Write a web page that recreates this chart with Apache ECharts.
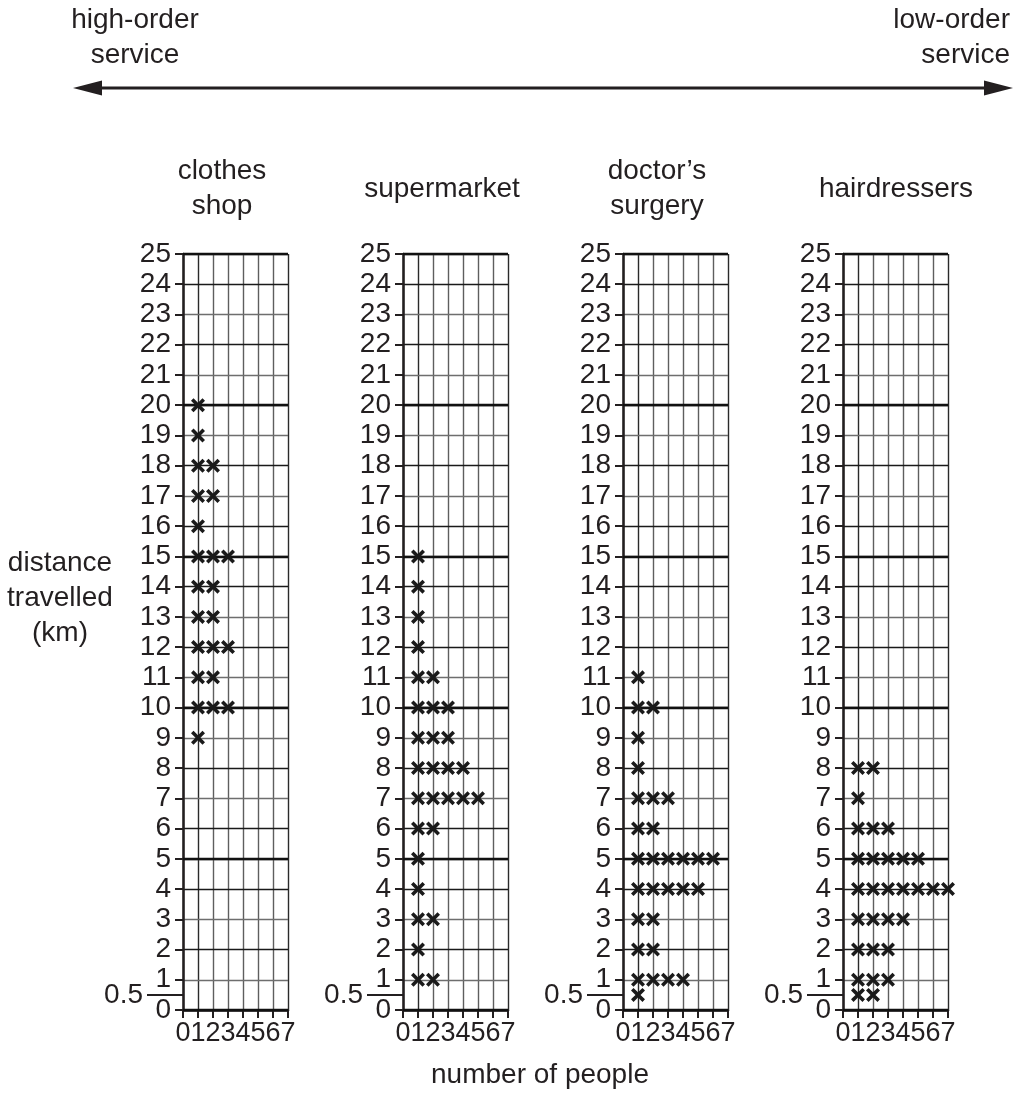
<!DOCTYPE html>
<html>
<head>
<meta charset="utf-8">
<script src="https://cdn.jsdelivr.net/npm/echarts@6/dist/echarts.min.js"></script>
<style>
html,body{margin:0;padding:0;background:#fff;}
#chart{width:1028px;height:1104px;}
</style>
</head>
<body>
<div id="chart"></div>
<script>
// ---- data ----
const categories = ['clothes\nshop', 'supermarket', 'doctor\u2019s\nsurgery', 'hairdressers'];
const clothesDistance = [20, 19, 18, 17, 16, 15, 14, 13, 12, 11, 10, 9];
const clothesPeople   = [1, 1, 2, 2, 1, 3, 2, 2, 3, 2, 3, 1];
const supermarketDistance = [15, 14, 13, 12, 11, 10, 9, 8, 7, 6, 5, 4, 3, 2, 1];
const supermarketPeople   = [1, 1, 1, 1, 2, 3, 3, 4, 5, 2, 1, 1, 2, 1, 2];
const doctorDistance = [11, 10, 9, 8, 7, 6, 5, 4, 3, 2, 1, 0.5];
const doctorPeople   = [1, 2, 1, 1, 3, 2, 6, 5, 2, 2, 4, 1];
const hairDistance = [8, 7, 6, 5, 4, 3, 2, 1, 0.5];
const hairPeople   = [2, 1, 3, 5, 7, 4, 3, 3, 2];
const yTicks = [0,1,2,3,4,5,6,7,8,9,10,11,12,13,14,15,16,17,18,19,20,21,22,23,24,25];
const xTicks = [0,1,2,3,4,5,6,7];
const extraTick = [0.5];
const yMax = 25;
const xMax = 7;
const arrowLeftLabel = 'high-order\nservice';
const arrowRightLabel = 'low-order\nservice';
const yTitle = 'distance\ntravelled\n(km)';
const xTitle = 'number of people';

// ---- layout ----
const FONT = '"Liberation Sans", Arial, Helvetica, sans-serif';
const INK = '#231f20';
const panelLefts = [183, 403, 623, 843];
const titleCenters = [222, 442, 657, 896];
const gridTop = 254, gridHeight = 756, gridWidth = 105;

const panels = [
  [clothesDistance, clothesPeople],
  [supermarketDistance, supermarketPeople],
  [doctorDistance, doctorPeople],
  [hairDistance, hairPeople]
];

function expand(dist, people) {
  const pts = [];
  dist.forEach((d, i) => {
    for (let j = 1; j <= people[i]; j++) pts.push([j, d]);
  });
  return pts;
}

const crossPath = 'path://M0,1.8 L1.8,0 L5,3.2 L8.2,0 L10,1.8 L6.8,5 L10,8.2 L8.2,10 L5,6.8 L1.8,10 L0,8.2 L3.2,5 Z';

const grids = [], xAxes = [], yAxes = [], series = [];
panelLefts.forEach((left, k) => {
  grids.push({ left: left, top: gridTop, width: gridWidth, height: gridHeight, containLabel: false });
  xAxes.push({
    type: 'value', gridIndex: k, min: 0, max: xMax, interval: 1,
    axisLine: { show: true, lineStyle: { color: INK, width: 2.5 } },
    axisTick: { show: true, length: 8, lineStyle: { color: INK, width: 2 }, customValues: xTicks },
    axisLabel: { show: true, customValues: xTicks, fontSize: 27, fontFamily: FONT, color: INK, margin: 10 },
    splitLine: { show: true, lineStyle: { color: ['#111', '#2a2a2a', '#5e5e5e', '#5e5e5e', '#5e5e5e', '#5e5e5e', '#5e5e5e', '#2a2a2a'], width: 1.4 } }
  });
  // main axis: half-unit grid, integer ticks/labels
  yAxes.push({
    type: 'value', gridIndex: k, position: 'left', min: 0, max: yMax, interval: 0.5,
    axisLine: { show: true, lineStyle: { color: INK, width: 2.5 } },
    axisTick: { show: true, length: 8, lineStyle: { color: INK, width: 2 }, customValues: yTicks },
    axisLabel: { show: true, customValues: yTicks, fontSize: 28, fontFamily: FONT, color: INK, margin: 12 },
    splitLine: { show: true, lineStyle: { color: ['#1a1a1a', '#6e6e6e'], width: 1.3 } },
    z: 2
  });
  // heavy lines every 5
  yAxes.push({
    type: 'value', gridIndex: k, position: 'left', min: 0, max: yMax, interval: 5,
    axisLine: { show: false }, axisTick: { show: false }, axisLabel: { show: false },
    splitLine: { show: true, lineStyle: { color: '#111', width: 2.4 } },
    z: 3
  });
  // 0.5 marker
  yAxes.push({
    type: 'value', gridIndex: k, position: 'left', min: 0, max: yMax,
    axisLine: { show: false },
    axisTick: { show: true, length: 36, lineStyle: { color: INK, width: 2 }, customValues: extraTick },
    axisLabel: { show: true, customValues: extraTick, fontSize: 28, fontFamily: FONT, color: INK, margin: 40, padding: [8, 0, 0, 0] },
    splitLine: { show: false }
  });
  series.push({
    type: 'scatter', xAxisIndex: k, yAxisIndex: 3 * k,
    symbol: crossPath, symbolSize: 14,
    itemStyle: { color: '#1a1a1a', opacity: 1 },
    data: expand(panels[k][0], panels[k][1]),
    z: 10, silent: true
  });
});

const txt = (x, y, text, align) => ({
  type: 'text', x: x, y: y, z: 100,
  style: { text: text, x: 0, y: 0, font: '28px ' + FONT, fill: INK, align: align || 'center', verticalAlign: 'middle', lineHeight: 35 }
});

const graphics = [];
categories.forEach((c, k) => {
  graphics.push(txt(titleCenters[k], 189, c));
});
graphics.push(txt(135, 38, arrowLeftLabel));
graphics.push(txt(1010, 38, arrowRightLabel, 'right'));
graphics.push(txt(60, 598, yTitle));
graphics.push(txt(540, 1075, xTitle));
graphics.push({ type: 'line', shape: { x1: 95, y1: 88, x2: 990, y2: 88 }, style: { stroke: INK, lineWidth: 3 }, z: 100 });
graphics.push({ type: 'polygon', shape: { points: [[73, 88], [102, 80.5], [102, 95.5]] }, style: { fill: INK }, z: 100 });
graphics.push({ type: 'polygon', shape: { points: [[1013, 88], [984, 80.5], [984, 95.5]] }, style: { fill: INK }, z: 100 });

const chart = echarts.init(document.getElementById('chart'), null, { renderer: 'canvas' });
chart.setOption({
  backgroundColor: '#ffffff',
  animation: false,
  grid: grids,
  xAxis: xAxes,
  yAxis: yAxes,
  series: series,
  graphic: graphics
});
</script>
</body>
</html>
